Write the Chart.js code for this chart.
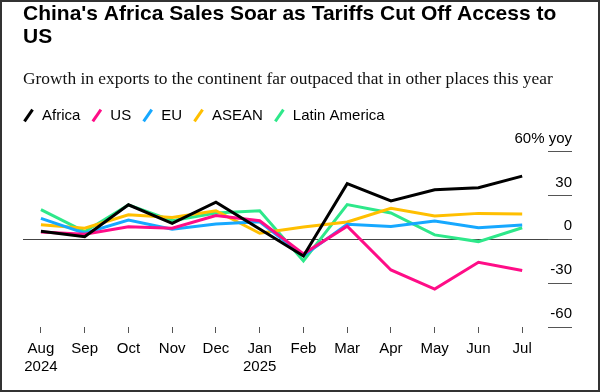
<!DOCTYPE html>
<html>
<head>
<meta charset="utf-8">
<script src="https://cdn.jsdelivr.net/npm/chart.js@4.4.1/dist/chart.umd.min.js"></script>
<style>
  html, body { margin: 0; padding: 0; background: #fff; }
  #frame { width: 600px; height: 392px; box-sizing: border-box; border: 2px solid #333; }
  #frame canvas { display: block; }
</style>
</head>
<body>
<div id="frame"><canvas id="chart" width="596" height="388"></canvas></div>
<script>
// months along the x axis (first of each year gets the year underneath)
const months = [['Aug', '2024'], 'Sep', 'Oct', 'Nov', 'Dec', ['Jan', '2025'], 'Feb', 'Mar', 'Apr', 'May', 'Jun', 'Jul'];

// % yoy export growth
const africa = [5.5, 1.8, 23.6, 10.9, 25.4, 7, -11.4, 38, 26.2, 33.9, 35.3, 43.2];
const us = [5, 3.4, 8.6, 7.5, 16.2, 12.7, -10, 8.9, -21, -34.1, -15.7, -21.3];
const eu = [14.3, 4.1, 13.2, 6.8, 10.5, 12, -11.2, 10.2, 8.7, 12.4, 7.9, 9.8];
const asean = [10, 7.5, 16.8, 14.9, 19.5, 4.1, 8.4, 11.8, 21.2, 15.9, 17.7, 17.3];
const latam = [20.3, 5.2, 23.5, 12.7, 18, 19.5, -14.8, 23.7, 18, 3, -1.6, 7.9];

const yTicks = [-60, -30, 0, 30, 60];

const sans = "'Liberation Sans', Arial, Helvetica, sans-serif";

function serie(label, values, color) {
    return {
        label: label,
        data: values.map((v, i) => ({ x: i, y: v })),
        borderColor: color,
        backgroundColor: color,
        borderWidth: 3,
        tension: 0,
        pointRadius: 0,
        pointHoverRadius: 0,
        pointStyle: 'line',
        pointRotation: -55,
        pointBorderWidth: 3,
        pointBorderColor: color
    };
}

// small tweak so the legend sits flush with the title and leaves room above the plot
const legendTweak = {
    id: 'legendTweak',
    afterInit(chart) {
        const fit = chart.legend.fit;
        chart.legend.fit = function () {
            fit.call(this);
            this.height += 18.5;
        };
    },
    afterLayout(chart) {
        chart.legend.left -= 11;
    }
};

new Chart(document.getElementById('chart'), {
    type: 'line',
    data: {
        datasets: [
            serie('Africa', africa, '#000000'),
            serie('US', us, '#ff0d87'),
            serie('EU', eu, '#16a8ff'),
            serie('ASEAN', asean, '#ffbf00'),
            serie('Latin America', latam, '#2ee88a')
        ]
    },
    options: {
        responsive: false,
        animation: false,
        events: [],
        layout: { padding: { left: 21, right: 0, top: 0, bottom: 0 } },
        plugins: {
            title: {
                display: true,
                align: 'start',
                text: ["China's Africa Sales Soar as Tariffs Cut Off Access to", 'US'],
                color: '#000',
                font: { family: sans, size: 21, weight: 'bold', lineHeight: 1.12 },
                padding: { top: 0, bottom: 19.6 }
            },
            subtitle: {
                display: true,
                align: 'start',
                text: 'Growth in exports to the continent far outpaced that in other places this year',
                color: '#111',
                font: { family: "'Liberation Serif', 'Times New Roman', serif", size: 17.4, lineHeight: 1.2 },
                padding: { top: 0, bottom: 8 }
            },
            legend: {
                display: true,
                align: 'start',
                labels: {
                    usePointStyle: true,
                    boxWidth: 12,
                    boxHeight: 10,
                    padding: 10.5,
                    color: '#000',
                    font: { family: sans, size: 15 }
                }
            },
            tooltip: { enabled: false }
        },
        scales: {
            x: {
                type: 'linear',
                min: -0.41,
                max: 11.59,
                afterBuildTicks: (axis) => { axis.ticks = months.map((m, i) => ({ value: i })); },
                afterFit: (axis) => { axis.height = 63; },
                border: { display: false },
                grid: { drawOnChartArea: false, tickLength: 6, tickColor: '#555', tickWidth: 1 },
                ticks: {
                    autoSkip: false,
                    maxRotation: 0,
                    padding: 7,
                    color: '#000',
                    font: { family: sans, size: 15, lineHeight: 1.2 },
                    callback: (value) => months[value]
                }
            },
            y: {
                position: 'right',
                min: -60,
                max: 60,
                afterBuildTicks: (axis) => { axis.ticks = yTicks.map(v => ({ value: v })); },
                afterFit: (axis) => { axis.width = 50; },
                border: { display: false },
                grid: {
                    tickLength: 24,
                    lineWidth: 1,
                    color: (ctx) => (ctx.tick && ctx.tick.value === 0 ? '#444' : 'rgba(0,0,0,0)'),
                    tickColor: '#555'
                },
                ticks: {
                    mirror: true,
                    padding: 24,
                    labelOffset: -13,
                    color: '#000',
                    font: { family: sans, size: 15 },
                    callback: (value) => (value === 60 ? '60% yoy' : String(value))
                }
            }
        }
    },
    plugins: [legendTweak]
});
</script>
</body>
</html>
